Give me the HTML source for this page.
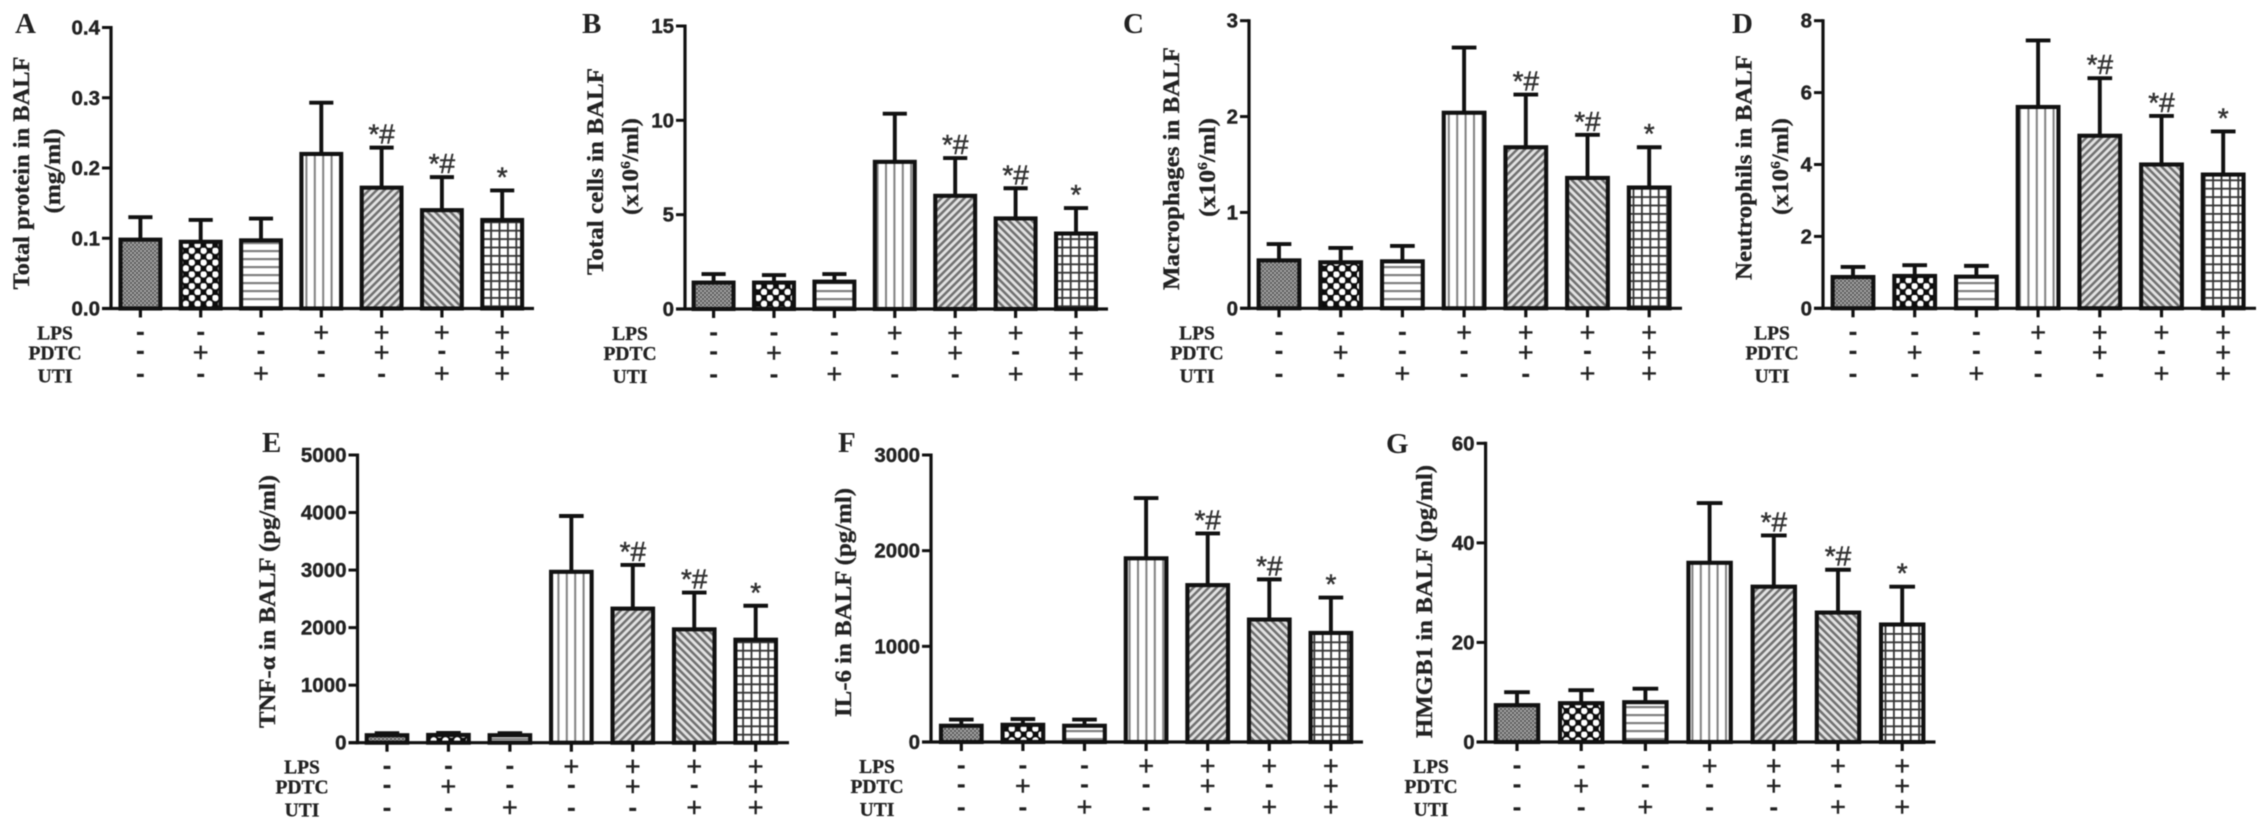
<!DOCTYPE html>
<html lang="en">
<head>
<meta charset="utf-8">
<title>BALF measurements under LPS, PDTC and UTI treatment</title>
<style>
html,body{margin:0;padding:0;background:#fff;}
body{width:2268px;height:829px;overflow:hidden;}
svg{display:block;filter:blur(0.6px);}
.tick{font:bold 20.5px "Liberation Sans",sans-serif;fill:#222;stroke:#222;stroke-width:0.4px;}
.title{font:bold 23px "Liberation Serif",serif;fill:#222;stroke:#222;stroke-width:0.3px;}
.letter{font:bold 29px "Liberation Serif",serif;fill:#222;}
.row{font:bold 19.5px "Liberation Serif",serif;fill:#222;text-anchor:middle;stroke:#222;stroke-width:0.3px;}
.sign{font:normal 27px "Liberation Sans",sans-serif;fill:#222;text-anchor:middle;stroke:#222;stroke-width:0.4px;}
.minus{font:bold 27px "Liberation Sans",sans-serif;fill:#222;text-anchor:middle;}
.mark{font:normal 28px "Liberation Sans",sans-serif;fill:#333;text-anchor:middle;stroke:#333;stroke-width:0.5px;}
</style>
</head>
<body>
<svg id="figure" xmlns="http://www.w3.org/2000/svg" width="2268" height="829" viewBox="0 0 2268 829">
<defs>
<pattern id="p0" width="4" height="4" patternUnits="userSpaceOnUse"><rect width="4" height="4" fill="#a6a6a6"/><rect width="2" height="2" fill="#5a5a5a"/><rect x="2" y="2" width="2" height="2" fill="#5a5a5a"/></pattern>
<pattern id="p1" width="11.8" height="11.8" patternUnits="userSpaceOnUse"><rect width="11.8" height="11.8" fill="#0c0c0c"/><circle cx="2.95" cy="2.95" r="3.3" fill="#fff"/><circle cx="8.85" cy="8.85" r="3.3" fill="#fff"/></pattern>
<pattern id="p2" width="8" height="8" patternUnits="userSpaceOnUse"><rect width="8" height="8" fill="#fff"/><rect y="2" width="8" height="2.2" fill="#808080"/></pattern>
<pattern id="p3" width="8.4" height="8" patternUnits="userSpaceOnUse"><rect width="8.4" height="8" fill="#fff"/><rect x="3" width="2" height="8" fill="#808080"/></pattern>
<pattern id="p4" width="5.4" height="5.4" patternUnits="userSpaceOnUse" patternTransform="rotate(45)"><rect width="5.4" height="5.4" fill="#e2e2e2"/><rect x="0" width="2.5" height="5.4" fill="#707070"/></pattern>
<pattern id="p5" width="5.4" height="5.4" patternUnits="userSpaceOnUse" patternTransform="rotate(-45)"><rect width="5.4" height="5.4" fill="#e2e2e2"/><rect x="0" width="2.5" height="5.4" fill="#707070"/></pattern>
<pattern id="p6" width="8.4" height="8.4" patternUnits="userSpaceOnUse"><rect width="8.4" height="8.4" fill="#fff"/><rect x="3" width="1.8" height="8.4" fill="#333"/><rect y="3" width="8.4" height="1.8" fill="#333"/></pattern>
</defs>
</svg>
<script>
// ---- Data ----
const groups = ['control', 'pdtc', 'uti', 'lps', 'lps-pdtc', 'lps-uti', 'lps-pdtc-uti'];
const lpsSigns  = ['-', '-', '-', '+', '+', '+', '+'];
const pdtcSigns = ['-', '+', '-', '-', '+', '-', '+'];
const utiSigns  = ['-', '-', '+', '-', '-', '+', '+'];
const significance = ['', '', '', '', '*#', '*#', '*'];

const meansA = [0.098, 0.095, 0.097, 0.22, 0.172, 0.14, 0.126];
const upperA = [0.13, 0.126, 0.128, 0.293, 0.229, 0.187, 0.168];
const ticksA = ['0.0', '0.1', '0.2', '0.3', '0.4'];

const meansB = [1.4, 1.4, 1.45, 7.8, 6.0, 4.8, 4.0];
const upperB = [1.85, 1.8, 1.85, 10.35, 8.0, 6.4, 5.35];
const ticksB = ['0', '5', '10', '15'];

const meansC = [0.5, 0.48, 0.49, 2.04, 1.68, 1.36, 1.26];
const upperC = [0.67, 0.63, 0.65, 2.72, 2.23, 1.81, 1.68];
const ticksC = ['0', '1', '2', '3'];

const meansD = [0.87, 0.9, 0.88, 5.6, 4.8, 4.0, 3.72];
const upperD = [1.15, 1.2, 1.18, 7.45, 6.4, 5.35, 4.92];
const ticksD = ['0', '2', '4', '6', '8'];

const meansE = [130, 135, 130, 2970, 2330, 1970, 1790];
const upperE = [165, 170, 165, 3940, 3090, 2610, 2380];
const ticksE = ['0', '1000', '2000', '3000', '4000', '5000'];

const meansF = [170, 180, 170, 1920, 1640, 1280, 1140];
const upperF = [235, 240, 235, 2550, 2180, 1700, 1510];
const ticksF = ['0', '1000', '2000', '3000'];

const meansG = [7.4, 7.8, 8, 36, 31.2, 26, 23.6];
const upperG = [10, 10.4, 10.7, 48, 41.5, 34.6, 31.2];
const ticksG = ['0', '20', '40', '60'];

// ---- Panel layout ----
const panels = [
  {id:'a', letter:'A', means:meansA, upper:upperA, ticks:ticksA, axisX:111, top:27.5, bottom:308.5, first:140.4, step:60.3, right:534, labelX:55, letterX:15, letterY:33,
   titles:[{text:'Total protein in BALF', x:21, yc:173, len:233},{text:'(mg/ml)', x:52, yc:171, len:85}]},
  {id:'b', letter:'B', means:meansB, upper:upperB, ticks:ticksB, axisX:685, top:26, bottom:309, first:713.6, step:60.4, right:1108, labelX:630, letterX:582, letterY:33,
   titles:[{text:'Total cells in BALF', x:595, yc:171.5, len:207},{sup:true, x:630, yc:166.5, len:97}]},
  {id:'c', letter:'C', means:meansC, upper:upperC, ticks:ticksC, axisX:1249, top:20.7, bottom:308.3, first:1279, step:61.7, right:1682, labelX:1197, letterX:1123, letterY:33,
   titles:[{text:'Macrophages in BALF', x:1171, yc:168.5, len:243},{sup:true, x:1207, yc:167.5, len:99}]},
  {id:'d', letter:'D', means:meansD, upper:upperD, ticks:ticksD, axisX:1823, top:20.7, bottom:308.3, first:1853, step:61.7, right:2256, labelX:1772, letterX:1732, letterY:33,
   titles:[{text:'Neutrophils in BALF', x:1743.5, yc:167.5, len:225},{sup:true, x:1780, yc:166.5, len:97}]},
  {id:'e', letter:'E', means:meansE, upper:upperE, ticks:ticksE, axisX:357.5, top:455, bottom:742.7, first:387, step:61.45, right:789, labelX:302, letterX:262, letterY:452,
   titles:[{text:'TNF-\u03b1 in BALF (pg/ml)', x:267, yc:601.5, len:253}]},
  {id:'f', letter:'F', means:meansF, upper:upperF, ticks:ticksF, axisX:931, top:455, bottom:742, first:961.3, step:61.6, right:1363, labelX:877, letterX:838, letterY:452,
   titles:[{text:'IL-6 in BALF (pg/ml)', x:843, yc:602.5, len:229}]},
  {id:'g', letter:'G', means:meansG, upper:upperG, ticks:ticksG, axisX:1485.6, top:443.3, bottom:742, first:1517, step:64.2, right:1935.5, labelX:1431, letterX:1386, letterY:453,
   titles:[{text:'HMGB1 in BALF (pg/ml)', x:1424, yc:601.5, len:273}]}
];

const NS = 'http://www.w3.org/2000/svg';
const root = document.getElementById('figure');
const INK = '#111';

function make(parent, tag, attrs, text) {
  const el = document.createElementNS(NS, tag);
  for (const k in attrs) el.setAttribute(k, attrs[k]);
  if (text !== undefined) el.textContent = text;
  parent.appendChild(el);
  return el;
}

function drawPanel(p) {
  const g = make(root, 'g', {});
  
  

  const yMax = Number(p.ticks[p.ticks.length - 1]);
  const yScale = v => p.bottom - (v / yMax) * (p.bottom - p.top);
  const xScale = i => p.first + i * p.step;
  const barW = p.step * 0.66;
  const capW = p.step * 0.4;

  // panel letter
  const letter = make(g, 'text', {class:'letter', x:p.letterX, y:p.letterY}, p.letter);
  
  

  // y axis titles
  p.titles.forEach((t, n) => {
    const title = make(g, 'text', {class:'title', 'text-anchor':'middle', textLength:t.len, lengthAdjust:'spacingAndGlyphs',
      transform:'translate(' + (t.x + 8) + ',' + t.yc + ') rotate(-90)'});
    
    
    if (t.sup) {
      make(title, 'tspan', {}, '(x10');
      make(title, 'tspan', {dy:-8, 'font-size':14}, '6');
      make(title, 'tspan', {dy:8}, '/ml)');
    } else {
      title.textContent = t.text;
    }
  });

  // bars and error bars
  groups.forEach((name, i) => {
    const cx = xScale(i);
    const yMean = yScale(p.means[i]);
    const yUp = yScale(p.upper[i]);

    const stem = make(g, 'line', {x1:cx, x2:cx, y1:yMean, y2:yUp, stroke:INK, 'stroke-width':3.9});
    
    

    const cap = make(g, 'line', {x1:cx - capW / 2, x2:cx + capW / 2, y1:yUp, y2:yUp, stroke:INK, 'stroke-width':3.9});
    
    

    const bar = make(g, 'rect', {x:cx - barW / 2, y:yMean, width:barW, height:p.bottom - yMean,
      fill:'url(#p' + i + ')', stroke:INK, 'stroke-width':4.1});
    
    

    if (significance[i]) {
      const mark = make(g, 'text', {class:'mark', x:cx, y:yUp - 4}, significance[i]);
      
      
    }

    const xt = make(g, 'line', {x1:cx, x2:cx, y1:p.bottom, y2:p.bottom + 9, stroke:INK, 'stroke-width':3.2});
    
    

    [lpsSigns, pdtcSigns, utiSigns].forEach((row, r) => {
      const s = row[i];
      const plusY = [24, 44, 65][r];
      const minusY = [25, 44, 67][r];
      const cy = p.bottom + (s === '+' ? plusY : minusY);
      const sign = make(g, 'text', {class:s === '+' ? 'sign' : 'minus', x:cx, y:cy + (s === '+' ? 9 : 7)}, s);
      
      
    });
  });

  // axes
  const yAxis = make(g, 'line', {x1:p.axisX, x2:p.axisX, y1:p.top - 1.5, y2:p.bottom + 1.5, stroke:INK, 'stroke-width':3.2});
  
  

  const xAxis = make(g, 'line', {x1:p.axisX - 9, x2:p.right, y1:p.bottom, y2:p.bottom, stroke:INK, 'stroke-width':3.2});
  
  

  p.ticks.forEach(label => {
    const y = yScale(Number(label));
    const tick = make(g, 'line', {x1:p.axisX - 9, x2:p.axisX, y1:y, y2:y, stroke:INK, 'stroke-width':3});
    
    

    const txt = make(g, 'text', {class:'tick', 'text-anchor':'end', x:p.axisX - 11, y:y + 7}, label);
    
    
  });

  // row labels
  [['LPS', 31], ['PDTC', 51], ['UTI', 74]].forEach(row => {
    const lab = make(g, 'text', {class:'row', x:p.labelX, y:p.bottom + row[1]}, row[0]);
    
    
  });
}

panels.forEach(drawPanel);
</script>
</body>
</html>
